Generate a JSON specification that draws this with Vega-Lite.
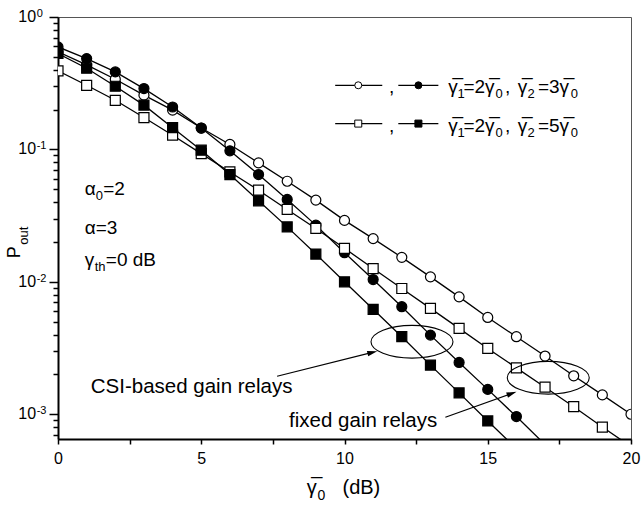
{
  "$schema": "https://vega.github.io/schema/vega-lite/v6.json",
  "width": 573,
  "height": 422,
  "autosize": {"type": "none"},
  "padding": {"left": 58, "top": 17, "right": 10, "bottom": 66},
  "background": "white",
  "config": {
    "view": {"stroke": "#555", "strokeWidth": 1},
    "font": "Liberation Sans",
    "axis": {"grid": false, "domainColor": "black", "domainWidth": 2, "tickColor": "black", "labelColor": "black", "titleColor": "black", "labelFont": "Liberation Sans", "titleFont": "Liberation Sans", "titleFontWeight": "normal"}
  },
  "datasets": {
    "curves": [
      {"snr": 0, "p": 0.545, "s": "fixed3"}, {"snr": 1, "p": 0.435, "s": "fixed3"}, {"snr": 2, "p": 0.339, "s": "fixed3"}, {"snr": 3, "p": 0.257, "s": "fixed3"}, {"snr": 4, "p": 0.198, "s": "fixed3"}, {"snr": 5, "p": 0.145, "s": "fixed3"}, {"snr": 6, "p": 0.109, "s": "fixed3"}, {"snr": 7, "p": 0.0791, "s": "fixed3"}, {"snr": 8, "p": 0.0575, "s": "fixed3"}, {"snr": 9, "p": 0.0414, "s": "fixed3"}, {"snr": 10, "p": 0.0291, "s": "fixed3"}, {"snr": 11, "p": 0.0212, "s": "fixed3"}, {"snr": 12, "p": 0.0153, "s": "fixed3"}, {"snr": 13, "p": 0.0109, "s": "fixed3"}, {"snr": 14, "p": 0.0077, "s": "fixed3"}, {"snr": 15, "p": 0.00538, "s": "fixed3"}, {"snr": 16, "p": 0.00385, "s": "fixed3"}, {"snr": 17, "p": 0.00275, "s": "fixed3"}, {"snr": 18, "p": 0.00195, "s": "fixed3"}, {"snr": 19, "p": 0.0014, "s": "fixed3"}, {"snr": 20, "p": 0.001, "s": "fixed3"},
      {"snr": 0, "p": 0.594, "s": "csi3"}, {"snr": 1, "p": 0.485, "s": "csi3"}, {"snr": 2, "p": 0.385, "s": "csi3"}, {"snr": 3, "p": 0.288, "s": "csi3"}, {"snr": 4, "p": 0.209, "s": "csi3"}, {"snr": 5, "p": 0.145, "s": "csi3"}, {"snr": 6, "p": 0.0975, "s": "csi3"}, {"snr": 7, "p": 0.0646, "s": "csi3"}, {"snr": 8, "p": 0.0419, "s": "csi3"}, {"snr": 9, "p": 0.0268, "s": "csi3"}, {"snr": 10, "p": 0.0166, "s": "csi3"}, {"snr": 11, "p": 0.0104, "s": "csi3"}, {"snr": 12, "p": 0.00649, "s": "csi3"}, {"snr": 13, "p": 0.00396, "s": "csi3"}, {"snr": 14, "p": 0.00246, "s": "csi3"}, {"snr": 15, "p": 0.00154, "s": "csi3"}, {"snr": 16, "p": 0.00096, "s": "csi3"}, {"snr": 17, "p": 0.00059, "s": "csi3"},
      {"snr": 0, "p": 0.392, "s": "fixed5"}, {"snr": 1, "p": 0.305, "s": "fixed5"}, {"snr": 2, "p": 0.235, "s": "fixed5"}, {"snr": 3, "p": 0.174, "s": "fixed5"}, {"snr": 4, "p": 0.128, "s": "fixed5"}, {"snr": 5, "p": 0.093, "s": "fixed5"}, {"snr": 6, "p": 0.0676, "s": "fixed5"}, {"snr": 7, "p": 0.0492, "s": "fixed5"}, {"snr": 8, "p": 0.0352, "s": "fixed5"}, {"snr": 9, "p": 0.0253, "s": "fixed5"}, {"snr": 10, "p": 0.0179, "s": "fixed5"}, {"snr": 11, "p": 0.0126, "s": "fixed5"}, {"snr": 12, "p": 0.0089, "s": "fixed5"}, {"snr": 13, "p": 0.0063, "s": "fixed5"}, {"snr": 14, "p": 0.00445, "s": "fixed5"}, {"snr": 15, "p": 0.00314, "s": "fixed5"}, {"snr": 16, "p": 0.00224, "s": "fixed5"}, {"snr": 17, "p": 0.0016, "s": "fixed5"}, {"snr": 18, "p": 0.00114, "s": "fixed5"}, {"snr": 19, "p": 0.0008, "s": "fixed5"}, {"snr": 20, "p": 0.00057, "s": "fixed5"},
      {"snr": 0, "p": 0.53, "s": "csi5"}, {"snr": 1, "p": 0.41, "s": "csi5"}, {"snr": 2, "p": 0.3, "s": "csi5"}, {"snr": 3, "p": 0.216, "s": "csi5"}, {"snr": 4, "p": 0.146, "s": "csi5"}, {"snr": 5, "p": 0.0986, "s": "csi5"}, {"snr": 6, "p": 0.0646, "s": "csi5"}, {"snr": 7, "p": 0.0409, "s": "csi5"}, {"snr": 8, "p": 0.026, "s": "csi5"}, {"snr": 9, "p": 0.0162, "s": "csi5"}, {"snr": 10, "p": 0.01, "s": "csi5"}, {"snr": 11, "p": 0.0062, "s": "csi5"}, {"snr": 12, "p": 0.00385, "s": "csi5"}, {"snr": 13, "p": 0.00235, "s": "csi5"}, {"snr": 14, "p": 0.00145, "s": "csi5"}, {"snr": 15, "p": 0.00089, "s": "csi5"}, {"snr": 16, "p": 0.00055, "s": "csi5"}
    ],
    "legendLines": [
      {"x": 9.675, "x2": 11.318, "y": 0.305}, {"x": 11.878, "x2": 13.276, "y": 0.305},
      {"x": 9.675, "x2": 11.318, "y": 0.1567}, {"x": 11.878, "x2": 13.276, "y": 0.1567}
    ],
    "legendMarks": [
      {"x": 10.48, "y": 0.305, "s": "fixed3"}, {"x": 12.58, "y": 0.305, "s": "csi3"},
      {"x": 10.48, "y": 0.1567, "s": "fixed5"}, {"x": 12.58, "y": 0.1567, "s": "csi5"}
    ],
    "mainText": [
      {"x": 11.55, "y": 0.2653, "t": ","},
      {"x": 13.625, "y": 0.2653, "t": "γ̅"}, {"x": 14.15, "y": 0.2653, "t": "=2γ̅"}, {"x": 15.6, "y": 0.2653, "t": ","}, {"x": 16.05, "y": 0.2653, "t": "γ̅"}, {"x": 16.75, "y": 0.2653, "t": "=3γ̅"},
      {"x": 11.55, "y": 0.1354, "t": ","},
      {"x": 13.625, "y": 0.1354, "t": "γ̅"}, {"x": 14.15, "y": 0.1354, "t": "=2γ̅"}, {"x": 15.6, "y": 0.1354, "t": ","}, {"x": 16.05, "y": 0.1354, "t": "γ̅"}, {"x": 16.75, "y": 0.1354, "t": "=5γ̅"},
      {"x": 0.934, "y": 0.04503, "t": "α"}, {"x": 1.58, "y": 0.04503, "t": "=2"},
      {"x": 0.934, "y": 0.02286, "t": "α=3"},
      {"x": 0.934, "y": 0.01311, "t": "γ"}, {"x": 1.668, "y": 0.01311, "t": "=0 dB"}
    ],
    "subText": [
      {"x": 13.941, "y": 0.2653, "t": "1"}, {"x": 15.269, "y": 0.2653, "t": "0"}, {"x": 16.39, "y": 0.2653, "t": "2"}, {"x": 17.9, "y": 0.2653, "t": "0"},
      {"x": 13.941, "y": 0.1354, "t": "1"}, {"x": 15.269, "y": 0.1354, "t": "0"}, {"x": 16.39, "y": 0.1354, "t": "2"}, {"x": 17.9, "y": 0.1354, "t": "0"},
      {"x": 1.318, "y": 0.04503, "t": "0"},
      {"x": 1.283, "y": 0.01311, "t": "th"}
    ],
    "xTitle": [{"x": 8.685, "y": 0.000249, "t": "γ̅"}, {"x": 9.93, "y": 0.000249, "t": "(dB)"}],
    "xTitleSub": [{"x": 9.06, "y": 0.000249, "t": "0"}],
    "yTitle": [{"x": -1.339, "y": 0.01507, "t": "P"}],
    "yTitleSub": [{"x": -1.03, "y": 0.01905, "t": "out"}],
    "yLabels": [
      {"v": 1, "e": "0"}, {"v": 0.1, "e": "-1"}, {"v": 0.01, "e": "-2"}, {"v": 0.001, "e": "-3"}
    ],
    "labels": [
      {"x": 1.143, "y": 0.00144, "t": "CSI-based gain relays"},
      {"x": 8.067, "y": 0.000802, "t": "fixed gain relays"}
    ],
    "ellipses": [
      {"x": 12.356, "y": 0.003527},
      {"x": 17.112, "y": 0.001886}
    ],
    "arrows": [
      {"x": 7.647, "y": 0.001936, "x2": 10.974, "y2": 0.002928, "a": -14.04},
      {"x": 13.521, "y": 0.000949, "x2": 15.839, "y2": 0.001435, "a": -19.65}
    ]
  },
  "layer": [
    {
      "data": {"name": "curves"},
      "mark": {"type": "line", "color": "black", "strokeWidth": 1.3, "clip": true},
      "encoding": {
        "x": {"field": "snr", "type": "quantitative",
          "scale": {"domain": [0, 20], "nice": false, "zero": false},
          "axis": {"values": [0, 2.5, 5, 7.5, 10, 12.5, 15, 17.5, 20], "labelExpr": "datum.value % 5 == 0 ? datum.label : ''", "tickSize": 5, "tickWidth": 1.5, "labelFontSize": 16, "labelPadding": 6, "labelFlush": false, "labelOverlap": false, "title": null}},
        "y": {"field": "p", "type": "quantitative",
          "scale": {"type": "log", "domain": [0.00065, 1], "nice": false},
          "axis": {"values": [1, 0.9, 0.8, 0.7, 0.6, 0.5, 0.4, 0.3, 0.2, 0.1, 0.09, 0.08, 0.07, 0.06, 0.05, 0.04, 0.03, 0.02, 0.01, 0.009, 0.008, 0.007, 0.006, 0.005, 0.004, 0.003, 0.002, 0.001, 0.0009, 0.0008, 0.0007],
            "labels": false,
            "tickSize": {"condition": {"test": "datum.value == 1 || datum.value == 0.1 || datum.value == 0.01 || datum.value == 0.001", "value": 9}, "value": 5},
            "tickWidth": 1.5, "title": null}},
        "detail": {"field": "s"}
      }
    },
    {
      "data": {"name": "curves"},
      "mark": {"type": "point", "stroke": "black", "strokeWidth": 1.2, "opacity": 1, "filled": false, "clip": true},
      "encoding": {
        "x": {"field": "snr", "type": "quantitative"},
        "y": {"field": "p", "type": "quantitative"},
        "shape": {"field": "s", "type": "nominal", "scale": {"domain": ["fixed3", "csi3", "fixed5", "csi5"], "range": ["circle", "circle", "square", "square"]}, "legend": null},
        "fill": {"field": "s", "type": "nominal", "scale": {"domain": ["fixed3", "csi3", "fixed5", "csi5"], "range": ["white", "black", "white", "black"]}, "legend": null},
        "size": {"field": "s", "type": "nominal", "scale": {"domain": ["fixed3", "csi3", "fixed5", "csi5"], "range": [100, 100, 81, 81]}, "legend": null}
      }
    },
    {
      "data": {"name": "legendLines"},
      "mark": {"type": "rule", "color": "black", "strokeWidth": 1.3},
      "encoding": {
        "x": {"field": "x", "type": "quantitative"},
        "x2": {"field": "x2"},
        "y": {"field": "y", "type": "quantitative"}
      }
    },
    {
      "data": {"name": "legendMarks"},
      "mark": {"type": "point", "stroke": "black", "strokeWidth": 1, "opacity": 1, "filled": false},
      "encoding": {
        "x": {"field": "x", "type": "quantitative"},
        "y": {"field": "y", "type": "quantitative"},
        "shape": {"field": "s", "type": "nominal", "legend": null},
        "fill": {"field": "s", "type": "nominal", "legend": null},
        "size": {"value": 49}
      }
    },
    {
      "data": {"name": "mainText"},
      "mark": {"type": "text", "align": "left", "baseline": "alphabetic", "fontSize": 19, "color": "black", "font": "Liberation Sans"},
      "encoding": {
        "x": {"field": "x", "type": "quantitative"},
        "y": {"field": "y", "type": "quantitative"},
        "text": {"field": "t"}
      }
    },
    {
      "data": {"name": "subText"},
      "mark": {"type": "text", "align": "left", "baseline": "alphabetic", "fontSize": 13, "dy": 5, "color": "black", "font": "Liberation Sans"},
      "encoding": {
        "x": {"field": "x", "type": "quantitative"},
        "y": {"field": "y", "type": "quantitative"},
        "text": {"field": "t"}
      }
    },
    {
      "data": {"name": "xTitle"},
      "mark": {"type": "text", "align": "left", "baseline": "alphabetic", "fontSize": 20, "color": "black", "font": "Liberation Sans"},
      "encoding": {
        "x": {"field": "x", "type": "quantitative"},
        "y": {"field": "y", "type": "quantitative"},
        "text": {"field": "t"}
      }
    },
    {
      "data": {"name": "xTitleSub"},
      "mark": {"type": "text", "align": "left", "baseline": "alphabetic", "fontSize": 14, "dy": 6, "color": "black", "font": "Liberation Sans"},
      "encoding": {
        "x": {"field": "x", "type": "quantitative"},
        "y": {"field": "y", "type": "quantitative"},
        "text": {"field": "t"}
      }
    },
    {
      "data": {"name": "yTitle"},
      "mark": {"type": "text", "align": "left", "baseline": "alphabetic", "angle": 270, "fontSize": 18, "color": "black", "font": "Liberation Sans"},
      "encoding": {
        "x": {"field": "x", "type": "quantitative"},
        "y": {"field": "y", "type": "quantitative"},
        "text": {"field": "t"}
      }
    },
    {
      "data": {"name": "yTitleSub"},
      "mark": {"type": "text", "align": "left", "baseline": "alphabetic", "angle": 270, "fontSize": 13, "color": "black", "font": "Liberation Sans"},
      "encoding": {
        "x": {"field": "x", "type": "quantitative"},
        "y": {"field": "y", "type": "quantitative"},
        "text": {"field": "t"}
      }
    },
    {
      "data": {"name": "yLabels"},
      "mark": {"type": "text", "align": "right", "baseline": "middle", "fontSize": 16, "color": "black", "font": "Liberation Sans"},
      "encoding": {
        "x": {"datum": -0.762},
        "y": {"field": "v", "type": "quantitative"},
        "text": {"value": "10"}
      }
    },
    {
      "data": {"name": "yLabels"},
      "mark": {"type": "text", "align": "left", "baseline": "alphabetic", "fontSize": 11, "dy": 0, "color": "black", "font": "Liberation Sans"},
      "encoding": {
        "x": {"datum": -0.745},
        "y": {"field": "v", "type": "quantitative"},
        "text": {"field": "e"}
      }
    },
    {
      "data": {"name": "labels"},
      "mark": {"type": "text", "align": "left", "baseline": "alphabetic", "fontSize": 20.5, "color": "black", "font": "Liberation Sans"},
      "encoding": {
        "x": {"field": "x", "type": "quantitative"},
        "y": {"field": "y", "type": "quantitative"},
        "text": {"field": "t"}
      }
    },
    {
      "data": {"name": "ellipses"},
      "mark": {"type": "point", "shape": "M -1 0 A 1 0.4 0 1 0 1 0 A 1 0.4 0 1 0 -1 0 Z", "filled": false, "stroke": "black", "strokeWidth": 1.1, "opacity": 1, "size": 6724},
      "encoding": {
        "x": {"field": "x", "type": "quantitative"},
        "y": {"field": "y", "type": "quantitative"}
      }
    },
    {
      "data": {"name": "arrows"},
      "mark": {"type": "rule", "color": "black", "strokeWidth": 1.2},
      "encoding": {
        "x": {"field": "x", "type": "quantitative"},
        "y": {"field": "y", "type": "quantitative"},
        "x2": {"field": "x2"},
        "y2": {"field": "y2"}
      }
    },
    {
      "data": {"name": "arrows"},
      "mark": {"type": "point", "shape": "M 1 0 L -1 -0.55 L -1 0.55 Z", "filled": true, "color": "black", "opacity": 1, "size": 100},
      "encoding": {
        "x": {"field": "x2", "type": "quantitative"},
        "y": {"field": "y2", "type": "quantitative"},
        "angle": {"field": "a", "type": "quantitative", "scale": null}
      }
    }
  ]
}
